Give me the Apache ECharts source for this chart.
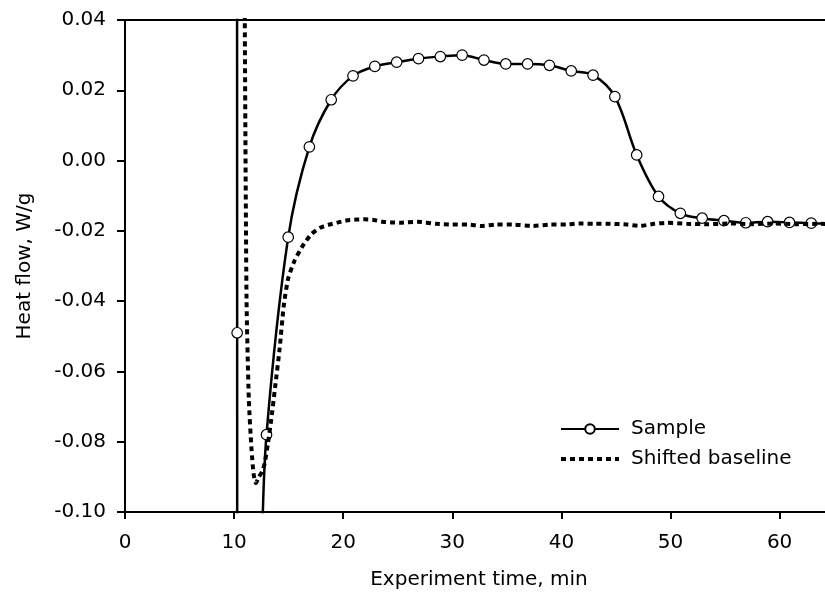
<!DOCTYPE html>
<html>
<head>
<meta charset="utf-8">
<script src="https://cdn.jsdelivr.net/npm/echarts@6/dist/echarts.min.js"></script>
<style>
  html, body { margin: 0; padding: 0; background: #fff; }
  #chart { width: 825px; height: 598px; }
</style>
</head>
<body>
<div id="chart"></div>
<script>
// Sample heat flow (W/g) against experiment time (min)
const sampleTime = [10.27, 10.28, 10.29, 12.2, 12.97, 14.96, 16.9, 18.9, 20.9, 22.9, 24.9, 26.9, 28.9, 30.9,
  32.9, 34.9, 36.9, 38.9, 40.9, 42.9, 44.9, 46.9, 48.9, 50.9, 52.9, 54.9, 56.9, 58.9, 60.9, 62.9, 65];
const sampleFlow = [0.08, -0.049, -0.16, -0.125, -0.078, -0.0218, 0.0039, 0.0173, 0.0241, 0.0268, 0.0280, 0.0290,
  0.0296, 0.0300, 0.0286, 0.0275, 0.0275, 0.0271, 0.0255, 0.0243, 0.0182, 0.0016, -0.0102, -0.0150, -0.0164,
  -0.0171, -0.0177, -0.0174, -0.0176, -0.0178, -0.0180];

// Shifted baseline run
const baseTime = [10.95, 10.98, 11.14, 11.35, 11.6, 11.8, 12.0, 12.27, 12.57, 12.8, 13.1, 13.4, 13.8, 14.16, 14.56,
  14.96, 15.54, 16.42, 17.1, 17.9, 18.74, 19.54, 20.36, 21.2, 22.0, 22.8, 23.6, 24.4, 25.2, 26.8, 28.5, 30.0,
  31.5, 32.6, 34.0, 35.5, 37.4, 39.0, 40.5, 41.6, 43.0, 44.5, 46.0, 47.2, 48.5, 49.7, 51.5, 53.5, 55.5, 57.5,
  59.5, 61.5, 63.5, 65];
const baseFlow = [0.08, 0.04, -0.0397, -0.068, -0.0824, -0.0895, -0.0918, -0.0900, -0.0885, -0.0862, -0.0805,
  -0.0738, -0.0634, -0.0539, -0.0411, -0.0335, -0.0285, -0.0236, -0.0209, -0.0191, -0.0182, -0.0176, -0.0170,
  -0.0168, -0.0167, -0.0169, -0.0174, -0.0176, -0.0177, -0.0174, -0.0180, -0.0182, -0.0182, -0.0186, -0.0182,
  -0.0182, -0.0186, -0.0182, -0.0182, -0.0179, -0.0180, -0.0180, -0.0182, -0.0186, -0.0180, -0.0177, -0.0180,
  -0.0181, -0.0179, -0.0181, -0.0179, -0.0181, -0.0180, -0.0181];

// time axis: visible window and labelled ticks
const xMin = 0, xMax = 64.16;
const xTicks = [0, 10, 20, 30, 40, 50, 60];
const yMin = -0.10, yMax = 0.04, yStep = 0.02;

const FONT = 'DejaVu Sans';
const DOTS = [5, 4];

// points outside the plotted range carry no marker
const sampleData = sampleTime.map((t, i) => {
  const v = sampleFlow[i];
  const inside = v >= yMin && v <= yMax && t <= xMax;
  return inside ? [t, v] : { value: [t, v], symbol: 'none' };
});
const baseData = baseTime.map((t, i) => [t, baseFlow[i]]);

const chart = echarts.init(document.getElementById('chart'), null, { renderer: 'canvas' });

const axisLineStyle = { color: '#000', width: 2 };

chart.setOption({
  animation: false,
  backgroundColor: '#fff',
  textStyle: { fontFamily: FONT, color: '#000' },
  grid: { left: 125, top: 20, right: 0, bottom: 86, show: false },
  legend: {
    orient: 'vertical',
    left: 554, top: 414,
    itemWidth: 58, itemHeight: 12, itemGap: 10,
    textStyle: { fontFamily: FONT, fontSize: 20, color: '#000', padding: [0, 0, 0, 7] },
    data: [
      { name: 'Sample' },
      {
        name: 'Shifted baseline',
        itemStyle: { color: 'rgba(0,0,0,0)', borderWidth: 0 },
        lineStyle: { color: '#000', width: 4, type: DOTS, cap: 'butt' }
      }
    ]
  },
  xAxis: [
    {
      type: 'value',
      min: xMin, max: xMax,
      name: 'Experiment time, min',
      nameLocation: 'middle', nameGap: 58,
      nameTextStyle: { fontFamily: FONT, fontSize: 20, color: '#000', padding: [0, 0, 0, 8] },
      axisLine: { show: true, onZero: false, lineStyle: axisLineStyle },
      axisTick: { show: true, length: 7, customValues: xTicks, lineStyle: axisLineStyle },
      axisLabel: { fontFamily: FONT, fontSize: 20, color: '#000', margin: 21, customValues: xTicks },
      splitLine: { show: false }
    },
    {
      // top frame line
      type: 'value',
      position: 'top',
      min: xMin, max: xMax,
      axisLine: { show: true, onZero: false, lineStyle: axisLineStyle },
      axisTick: { show: false },
      axisLabel: { show: false },
      splitLine: { show: false }
    }
  ],
  yAxis: {
    type: 'value',
    min: yMin, max: yMax, interval: yStep,
    name: 'Heat flow, W/g',
    nameLocation: 'middle', nameGap: 90, nameRotate: 90,
    nameTextStyle: { fontFamily: FONT, fontSize: 20, color: '#000' },
    axisLine: { show: true, onZero: false, lineStyle: axisLineStyle },
    axisTick: { show: true, length: 8, lineStyle: axisLineStyle },
    axisLabel: {
      fontFamily: FONT, fontSize: 20, color: '#000', margin: 19,
      formatter: v => (Math.abs(v) < 1e-9 ? 0 : v).toFixed(2)
    },
    splitLine: { show: false }
  },
  series: [
    {
      name: 'Sample',
      type: 'line',
      xAxisIndex: 0,
      data: sampleData,
      smooth: 0.35,
      clip: true,
      symbol: 'circle',
      symbolSize: 10.5,
      showAllSymbol: true,
      lineStyle: { color: '#000', width: 2.5 },
      itemStyle: { color: '#fff', borderColor: '#000', borderWidth: 1.2 },
      z: 2
    },
    {
      name: 'Shifted baseline',
      type: 'line',
      xAxisIndex: 0,
      data: baseData,
      smooth: 0.2,
      clip: true,
      symbol: 'none',
      lineStyle: { color: '#000', width: 4, type: DOTS, cap: 'butt' },
      itemStyle: { color: '#000' },
      z: 3
    }
  ]
});
</script>
</body>
</html>
